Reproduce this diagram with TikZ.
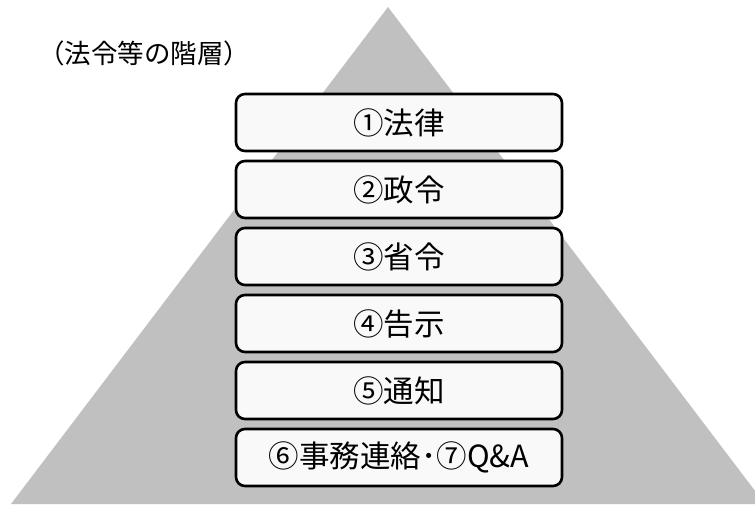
\documentclass[tikz,border=0pt]{standalone}
\usepackage{fontspec}
\setmainfont{Noto Sans CJK JP}
\definecolor{pyr}{HTML}{C0C0C0}
\definecolor{boxfill}{HTML}{F9F9F9}
\tikzset{
  levelbox/.style={draw=black, line width=2.6pt, rounded corners=9pt, fill=boxfill,
    minimum width=326pt, minimum height=57pt, inner sep=0pt, font=\fontsize{30.5}{33}\selectfont},
}
\begin{document}
\begin{tikzpicture}[x=1pt,y=-1pt]
\useasboundingbox (0,0) rectangle (755,504);
\clip (0,0) rectangle (755,504);
\fill[pyr] (388,7) -- (765,504) -- (11,504) -- cycle;
\node[anchor=west, font=\fontsize{26.5}{30}\selectfont, inner sep=0pt] (title) at (38,53) {（法令等の階層）};
\node[levelbox] (b1) at (399,122.5) {①法律};
\node[levelbox] (b2) at (399,189.5) {②政令};
\node[levelbox] (b3) at (399,256.5) {③省令};
\node[levelbox] (b4) at (399,323.5) {④告示};
\node[levelbox] (b5) at (399,390.5) {⑤通知};
\node[levelbox] (b6) at (399,457.5) {⑥事務連絡･⑦Q\&A};
\end{tikzpicture}
\end{document}
